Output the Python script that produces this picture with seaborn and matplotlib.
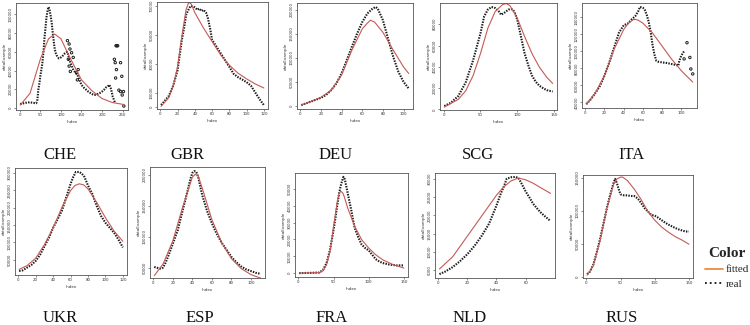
import matplotlib
matplotlib.use("Agg")
import matplotlib.pyplot as plt
from matplotlib.lines import Line2D
import seaborn as sns
import pandas as pd

#%% data (index, value)
che_idx = [1, 5, 10, 15, 20, 25, 30, 35, 40, 43, 45, 48, 50, 53, 55, 58, 60, 63, 65, 68, 70, 72, 75, 78, 80, 83, 85, 88,
           90, 95, 100, 105, 110, 115, 118, 120, 125, 130, 135, 140, 145, 150, 155, 160, 165, 170, 175, 180, 185, 190,
           195, 200, 205, 210, 215, 218, 222, 226, 232]
che_real = [4000, 4500, 5000, 5500, 5800, 6000, 5600, 5200, 5000, 9000, 19000, 27000, 34000, 42000, 48000, 62000, 74000,
            88000, 97000, 105000, 108000, 106000, 99000, 90000, 81000, 70000, 63000, 58000, 56000, 53000, 54000, 56000,
            58500, 60000, 57000, 52000, 46500, 41000, 38000, 35600, 30000, 24700, 22000, 20000, 18000, 16400, 15000,
            13800, 14000, 15000, 16000, 17500, 19500, 22000, 23500, 24700, 20000, 12000, 5000]
che_out_idx = [116, 120, 122, 118, 120, 123, 126, 130, 138, 140, 142, 230, 232, 235, 234, 236, 238, 245, 233, 248, 241,
               245, 249, 252, 253]
che_out = [72000, 68400, 63000, 52000, 44700, 39000, 59000, 54000, 37500, 30000, 41000, 52000, 48400, 41000, 66500,
           66500, 66500, 48400, 32000, 33800, 19000, 17500, 13800, 17500, 2000]
che_fit_idx = [1, 25, 50, 70, 85, 100, 120, 150, 175, 200, 225, 253]
che_fit = [3000, 15600, 52000, 74000, 79000, 74000, 55600, 30000, 18500, 10000, 5800, 3600]

gbr_idx = [1, 5, 10, 15, 20, 25, 28, 30, 33, 35, 38, 40, 43, 45, 48, 50, 53, 55, 58, 60, 65, 70, 75, 80, 85, 90, 95,
           100, 105, 110, 115, 120]
gbr_real = [1400, 4200, 7800, 14800, 25400, 46600, 56000, 64000, 67800, 70000, 69600, 69000, 67300, 68200, 66500,
            67300, 65400, 62000, 53600, 46600, 41900, 37200, 32500, 27800, 23000, 20700, 19000, 17200, 14800, 10100,
            5400, 1400]
gbr_fit_idx = [1, 10, 15, 20, 25, 30, 33, 36, 40, 50, 60, 70, 80, 90, 100, 110, 120]
gbr_fit = [500, 6600, 14800, 27800, 49000, 67800, 72500, 71300, 65400, 54800, 45400, 36000, 29000, 23500, 19500, 16000,
           13200]

deu_idx = [1, 10, 20, 25, 30, 35, 40, 45, 50, 55, 60, 65, 70, 73, 75, 80, 85, 90, 95, 100, 105]
deu_real = [2000, 9000, 17000, 23000, 33000, 47000, 67500, 95000, 123000, 150000, 174000, 192000, 202000, 205500,
            202000, 178000, 140000, 102000, 71000, 50000, 36500]
deu_fit_idx = [1, 10, 20, 30, 40, 50, 60, 65, 68, 72, 80, 90, 100, 105]
deu_fit = [2000, 9000, 18000, 33000, 64000, 116000, 160000, 172000, 178000, 174000, 153000, 116000, 81000, 67500]

scg_idx = [1, 10, 20, 30, 40, 50, 55, 60, 65, 70, 75, 78, 82, 88, 92, 96, 100, 105, 110, 115, 120, 125, 130, 135,
           140, 148]
scg_real = [3200, 6300, 12700, 25400, 46000, 71400, 87300, 93700, 96200, 95200, 92000, 88900, 90500, 93700, 94300,
            92000, 84100, 68300, 52400, 41300, 31700, 26000, 22200, 20000, 18100, 16800]
scg_fit_idx = [1, 20, 30, 40, 50, 60, 70, 80, 85, 90, 100, 110, 120, 130, 140, 148]
scg_fit = [2200, 9500, 17500, 31700, 52400, 76200, 92000, 98400, 99400, 97500, 85700, 68300, 52400, 39700, 30200, 24400]

ita_idx = [1, 5, 10, 15, 20, 25, 30, 35, 40, 45, 48, 50, 52, 55, 57, 60, 62, 64, 66, 68, 70, 72, 74, 76, 80, 85, 90,
           95, 97, 98, 100, 102, 104]
ita_real = [38000, 42600, 50300, 58800, 71500, 86900, 104200, 121500, 130400, 133000, 137000, 139000, 141000, 146500,
            152000, 151000, 148500, 142700, 135000, 123500, 108000, 96500, 88900, 87700, 86900, 86200, 85000, 83800,
            83000, 88900, 94600, 98500, 100400]
ita_out_idx = [103, 106, 109, 110, 112]
ita_out = [91000, 110000, 92700, 79200, 73400]
ita_fit_idx = [1, 10, 20, 30, 40, 45, 50, 52, 55, 60, 70, 80, 90, 100, 112]
ita_fit = [38000, 50300, 71500, 102300, 125400, 133000, 137000, 137300, 136500, 133000, 121500, 106100, 90700, 77300,
           63800]

ukr_idx = [1, 5, 10, 15, 20, 25, 30, 35, 40, 45, 50, 55, 60, 63, 66, 70, 73, 76, 80, 85, 90, 95, 100, 105, 110, 115,
           120]
ukr_real = [18000, 20000, 27800, 35500, 47100, 64600, 88800, 113000, 142200, 166500, 190800, 229600, 268500, 288000,
            302600, 302600, 297700, 288000, 263700, 239300, 205300, 176200, 156800, 142200, 127700, 108300, 85900]
ukr_fit_idx = [1, 10, 20, 30, 40, 50, 60, 65, 70, 75, 80, 90, 100, 110, 120]
ukr_fit = [22800, 33500, 54900, 93700, 142200, 200500, 249000, 263700, 268500, 265600, 253900, 215000, 171300, 132500,
           103400]

esp_idx = [1, 5, 8, 10, 12, 15, 20, 25, 30, 35, 38, 40, 42, 44, 46, 50, 55, 60, 65, 70, 75, 80, 85, 90, 95, 100, 105,
           110]
esp_real = [51000, 49000, 48000, 50000, 55700, 67200, 88500, 110300, 142000, 173600, 193700, 203400, 206300, 205200,
            196600, 167800, 142000, 121800, 104600, 90200, 78700, 67200, 58600, 51700, 47100, 44300, 41400, 39700]
esp_fit_idx = [1, 10, 20, 30, 40, 43, 46, 50, 60, 70, 80, 90, 100, 110]
esp_fit = [36800, 55700, 93100, 147700, 196600, 201100, 198300, 179300, 127600, 90200, 64400, 48300, 38500, 32800]

fra_idx = [1, 10, 20, 30, 35, 40, 45, 50, 53, 55, 58, 60, 62, 64, 66, 68, 70, 72, 75, 80, 85, 90, 95, 100, 105, 110,
           115, 120, 130, 140, 150]
fra_real = [0, 100, 200, 400, 2000, 6000, 14000, 25800, 33700, 39700, 47600, 51600, 54600, 57100, 55600, 51600, 47600,
            43600, 37700, 26800, 21400, 16900, 14900, 13500, 10900, 8300, 6900, 6000, 5000, 4600, 4600]
fra_fit_idx = [1, 30, 35, 40, 45, 50, 55, 58, 60, 63, 65, 70, 80, 90, 100, 110, 120, 135, 150]
fra_fit = [0, 300, 1400, 5000, 12900, 27800, 41700, 47600, 48600, 47600, 45600, 38700, 27800, 19800, 14900, 10900, 7900,
           5000, 3000]

nld_idx = [1, 5, 10, 15, 20, 25, 30, 35, 40, 43, 45, 47, 50, 53, 55, 57, 60, 63, 65, 68, 70, 73, 76, 77]
nld_real = [4000, 4700, 5900, 7500, 9400, 11700, 14500, 17800, 22700, 26000, 27800, 30000, 30400, 30500, 30200, 28800,
            26500, 24600, 23200, 21800, 20900, 19800, 18800, 18500]
nld_fit_idx = [1, 10, 20, 30, 40, 45, 50, 55, 60, 65, 70, 77]
nld_fit = [5400, 8700, 14300, 19900, 25500, 27800, 29400, 30200, 29700, 28800, 27600, 26000]

rus_idx = [1, 5, 10, 15, 20, 25, 30, 35, 40, 42, 45, 48, 50, 55, 60, 65, 70, 75, 80, 85, 90, 95, 100, 105, 110, 115,
           120, 125, 130, 135, 140, 145, 150]
rus_real = [4200, 7800, 18200, 36500, 57300, 80700, 104200, 125000, 143200, 148400, 140600, 130200, 125000, 123400,
            123400, 122400, 122400, 118800, 112000, 104200, 99000, 93700, 92700, 89600, 85900, 82300, 79200, 76600,
            74000, 71900, 70300, 68700, 68700]
rus_fit_idx = [1, 10, 20, 30, 40, 45, 50, 53, 60, 70, 80, 90, 100, 110, 120, 130, 140, 150]
rus_fit = [2600, 16700, 54700, 104200, 140600, 148400, 151000, 151000, 145800, 132800, 117200, 99000, 85900, 75500,
           67700, 60900, 55700, 49500]

# tick values
che_xt, che_yt = [0, 50, 100, 150, 200, 250], [0, 20000, 40000, 60000, 80000, 100000]
gbr_xt, gbr_yt = [0, 20, 40, 60, 80, 100, 120], [0, 10000, 30000, 50000, 70000]
deu_xt, deu_yt = [0, 20, 40, 60, 80, 100], [0, 50000, 100000, 150000, 200000]
scg_xt, scg_yt = [0, 50, 100, 150], [0, 20000, 40000, 60000, 80000]
ita_xt, ita_yt = [0, 20, 40, 60, 80, 100], [40000, 60000, 80000, 100000, 120000, 140000]
ukr_xt, ukr_yt = [0, 20, 40, 60, 80, 100, 120], [50000, 100000, 150000, 200000, 250000, 300000]
esp_xt, esp_yt = [0, 20, 40, 60, 80, 100], [50000, 100000, 150000, 200000]
fra_xt, fra_yt = [0, 50, 100, 150], [0, 10000, 20000, 30000, 40000, 50000]
nld_xt, nld_yt = [0, 20, 40, 60], [5000, 10000, 15000, 20000, 25000, 30000]
rus_xt, rus_yt = [0, 50, 100, 150], [0, 50000, 100000, 150000]

#%% layout: axes box in pixels (left, top, right, bottom), label centre in pixels
panels = [
    ("CHE", che_idx, che_real, che_fit_idx, che_fit, che_xt, che_yt, (16, 3, 128, 110), (60, 155)),
    ("GBR", gbr_idx, gbr_real, gbr_fit_idx, gbr_fit, gbr_xt, gbr_yt, (157, 2, 268, 109), (187, 155)),
    ("DEU", deu_idx, deu_real, deu_fit_idx, deu_fit, deu_xt, deu_yt, (297, 3, 413, 109), (336, 155)),
    ("SCG", scg_idx, scg_real, scg_fit_idx, scg_fit, scg_xt, scg_yt, (440, 3, 557, 110), (478, 155)),
    ("ITA", ita_idx, ita_real, ita_fit_idx, ita_fit, ita_xt, ita_yt, (582, 3, 697, 108), (632, 155)),
    ("UKR", ukr_idx, ukr_real, ukr_fit_idx, ukr_fit, ukr_xt, ukr_yt, (15, 168, 127, 275), (60, 318)),
    ("ESP", esp_idx, esp_real, esp_fit_idx, esp_fit, esp_xt, esp_yt, (150, 167, 265, 278), (200, 318)),
    ("FRA", fra_idx, fra_real, fra_fit_idx, fra_fit, fra_xt, fra_yt, (295, 173, 408, 277), (332, 318)),
    ("NLD", nld_idx, nld_real, nld_fit_idx, nld_fit, nld_xt, nld_yt, (435, 173, 555, 278), (470, 318)),
    ("RUS", rus_idx, rus_real, rus_fit_idx, rus_fit, rus_xt, rus_yt, (583, 175, 693, 278), (622, 318)),
]
outliers = {"CHE": (che_out_idx, che_out), "ITA": (ita_out_idx, ita_out)}

W, H = 750, 325
fit_col = "#c55a55"
leg_fit_col = "#f08a3c"

sns.set_style("ticks")
plt.rcParams['font.family'] = ['DejaVu Sans']

fig = plt.figure(figsize=(W / 100, H / 100), dpi=100)

for name, idx, real, fidx, fit, xt, yt, (l, t, r, b), (lx, ly) in panels:
    ax = fig.add_axes([l / W, 1 - b / H, (r - l) / W, (b - t) / H])
    df_real = pd.DataFrame({"Index": idx, "dataExample": real})
    df_fit = pd.DataFrame({"Index": fidx, "fitted": fit})
    sns.lineplot(data=df_real, x="Index", y="dataExample", ax=ax, color="#1c1c1c",
                 linewidth=1.5, linestyle=(0, (0.7, 0.6)))
    allx, ally = list(idx), list(real)
    if name in outliers:
        oi, ov = outliers[name]
        sns.scatterplot(x=oi, y=ov, ax=ax, marker="o", s=3, facecolor="none",
                        edgecolor="#1c1c1c", linewidth=0.7)
        allx += oi
        ally += ov
    sns.lineplot(data=df_fit, x="Index", y="fitted", ax=ax, color=fit_col, linewidth=0.8)
    # R style 4% padding on the real data range
    x0, x1 = min(allx), max(allx)
    y0, y1 = min(ally), max(ally)
    ax.set_xlim(x0 - 0.04 * (x1 - x0), x1 + 0.04 * (x1 - x0))
    ax.set_ylim(y0 - 0.04 * (y1 - y0), y1 + 0.04 * (y1 - y0))
    ax.set_xticks(xt)
    ax.set_xticklabels([str(v) for v in xt])
    ax.set_yticks(yt)
    ax.set_yticklabels([str(v) for v in yt], rotation=90, va="center")
    ax.tick_params(length=1.5, width=0.4, labelsize=2.8, pad=1, colors="#333333")
    ax.set_xlabel("Index", fontsize=3, labelpad=1.5, color="#333333")
    ax.set_ylabel("dataExample", fontsize=3, labelpad=1.5, color="#333333")
    for sp in ax.spines.values():
        sp.set_visible(True)
        sp.set_linewidth(0.6)
        sp.set_color("#555555")
    fig.text(lx / W, 1 - ly / H, name, ha="center", va="center", fontsize=12,
             family="Liberation Serif", color="#111111")

handles = [Line2D([], [], color=leg_fit_col, linewidth=1.3),
           Line2D([], [], color="#111111", linewidth=1.3, linestyle=":")]
fig.legend(handles=handles, labels=["fitted", "real"], title="Color", loc="center",
           bbox_to_anchor=(727 / W, 1 - 268 / H), frameon=False, handlelength=1.6,
           handletextpad=0.3, labelspacing=0.4, borderpad=0,
           prop={"family": "Liberation Serif", "size": 8},
           title_fontproperties={"family": "Liberation Serif", "size": 11, "weight": "bold"})

fig.savefig("out.png", dpi=100)
